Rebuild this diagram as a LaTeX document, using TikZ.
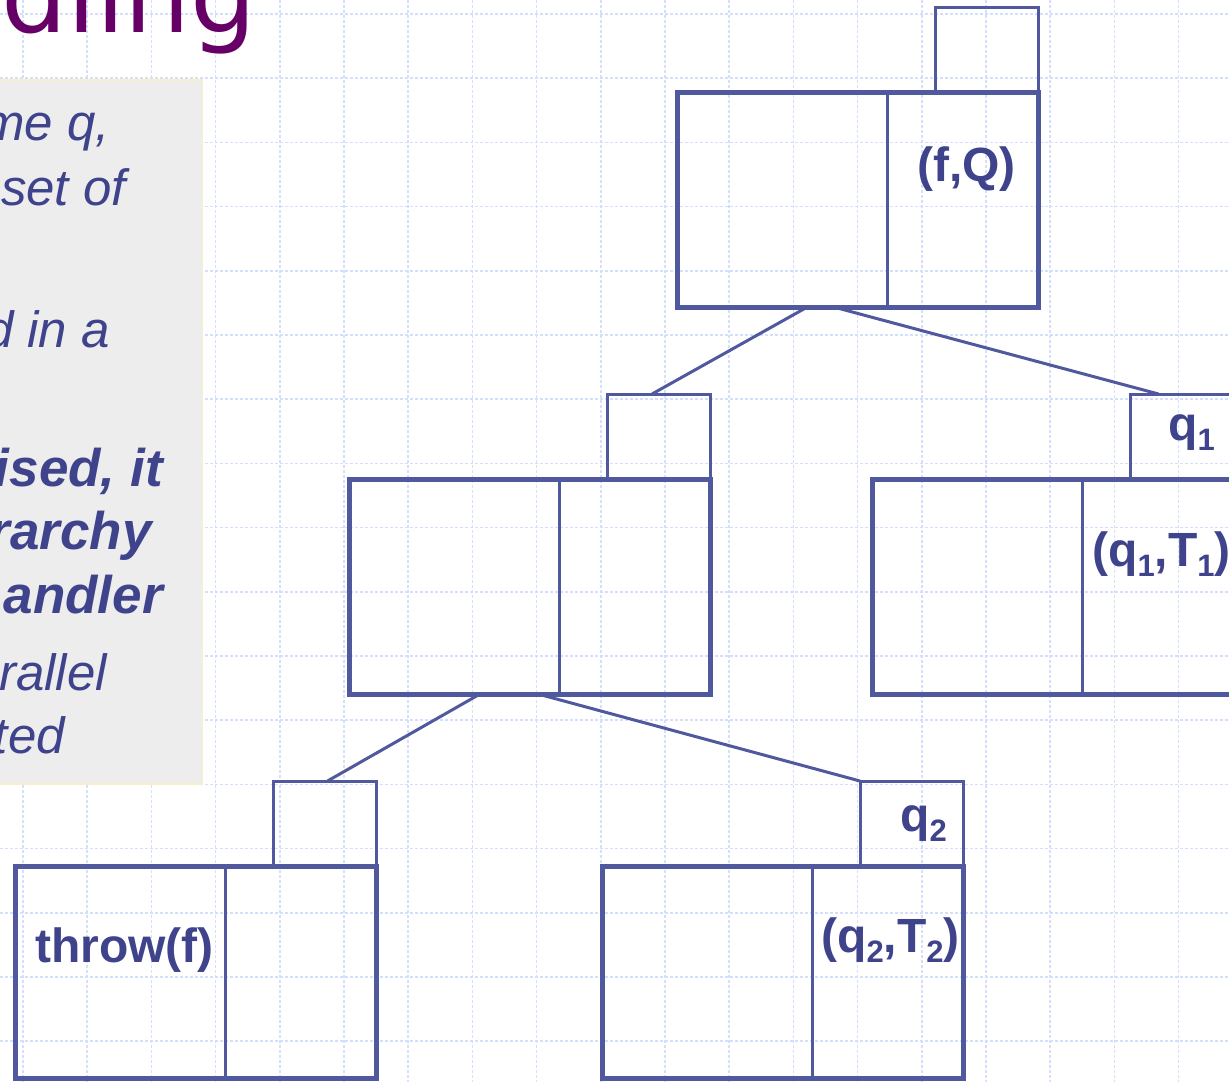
\documentclass[tikz,border=0pt]{standalone}
\usepackage{fontspec}
\setmainfont{Liberation Sans}
\newfontfamily\titlefont{DejaVu Sans}
\usetikzlibrary{positioning}
\definecolor{ink}{RGB}{63,67,140}
\definecolor{frameblue}{RGB}{80,88,158}
\definecolor{gridblue}{RGB}{212,223,252}
\definecolor{panelgray}{RGB}{237,237,237}
\definecolor{panelrim}{RGB}{248,238,200}
\definecolor{titlepurple}{RGB}{102,0,102}
\newcommand{\lsub}[1]{\raisebox{-10pt}{\fontsize{31}{31}\selectfont #1}}

\begin{document}
\begin{tikzpicture}[
  x=1pt, y=-1pt,
  frame/.style={draw=frameblue, line width=5pt, minimum width=361pt, minimum height=215pt, inner sep=0pt, outer sep=0pt},
  tag/.style={draw=frameblue, line width=3pt, minimum width=103pt, minimum height=85pt, inner sep=0pt, outer sep=0pt, anchor=south east},
  link/.style={draw=frameblue, line width=3pt},
  lab/.style={font=\fontsize{48}{48}\selectfont\bfseries, text=ink, inner sep=0pt, anchor=base west},
  txt/.style={font=\fontsize{51}{51}\selectfont\itshape, text=ink, inner sep=0pt, anchor=base east},
  txtb/.style={txt, font=\fontsize{53}{53}\selectfont\bfseries\itshape},
  gridline/.style={gridblue, line width=1.5pt, dash pattern=on 2.5pt off 2.5pt}
]
\useasboundingbox (0,0) rectangle (1229,1082);
\clip (0,0) rectangle (1229,1082);
% background grid
\foreach \gx in {0,...,18} \draw[gridline] (23+64.2*\gx,0) -- (23+64.2*\gx,1082);
\foreach \gy in {0,...,16} \draw[gridline] (0,14+64.2*\gy) -- (1229,14+64.2*\gy);

\node[font=\titlefont\fontsize{104}{104}\selectfont, text=titlepurple, inner sep=0pt, anchor=base east] (title) at (257,32) {dling};

\node[fill=panelgray, draw=panelrim, line width=1.5pt, minimum width=220pt, minimum height=704pt, anchor=north east] (panel) at (203,79) {};
\node[txt] (t1) at (110,140) {me q,};
\node[txt] (t2) at (126,205) {set of};
\node[txt] (t3) at (110,347) {d in a};
\node[txtb] (t4) at (163,486) {ised, it};
\node[txtb] (t5) at (152,549) {rarchy};
\node[txtb] (t6) at (163,613) {andler};
\node[txt] (t7) at (107,690) {rallel};
\node[txt] (t8) at (65,753) {ted};

% frames
\node[frame] (root) at (857.5,200) {};
\node[tag] (roott) at (root.north east) {};
\node[frame] (mid) at (529.5,586.5) {};
\node[tag] (midt) at (mid.north east) {};
\node[frame] (qone) at (1052.5,586.5) {};
\node[tag] (qonet) at (qone.north east) {};
\node[frame, minimum height=212pt] (thr) at (196,972) {};
\node[tag] (thrt) at (thr.north east) {};
\node[frame, minimum height=212pt] (qtwo) at (782.5,972) {};
\node[tag] (qtwot) at (qtwo.north east) {};

\foreach \b in {root,mid,qone,thr,qtwo}
  \draw[link] ([xshift=210pt]\b.north west) -- ([xshift=210pt]\b.south west);

\draw[link] ([xshift=-51pt]root.south) -- ([xshift=-6.5pt]midt.north);
\draw[link] ([xshift=-22pt]root.south) -- ([xshift=-23pt]qonet.north);
\draw[link] ([xshift=-49.5pt]mid.south) -- ([xshift=2.5pt]thrt.north);
\draw[link] ([xshift=8.5pt]mid.south) -- (qtwot.north west);

\node[lab] (fq) at (917,181) {(f,Q)};
\node[lab] (q1) at (1168,440) {q\lsub{1}};
\node[lab] (q1t1) at (1092,566) {(q\lsub{1},T\lsub{1})};
\node[lab] (q2) at (900,831) {q\lsub{2}};
\node[lab] (q2t2) at (821,952) {(q\lsub{2},T\lsub{2})};
\node[lab] (thrf) at (35,962) {throw(f)};
\end{tikzpicture}
\end{document}
